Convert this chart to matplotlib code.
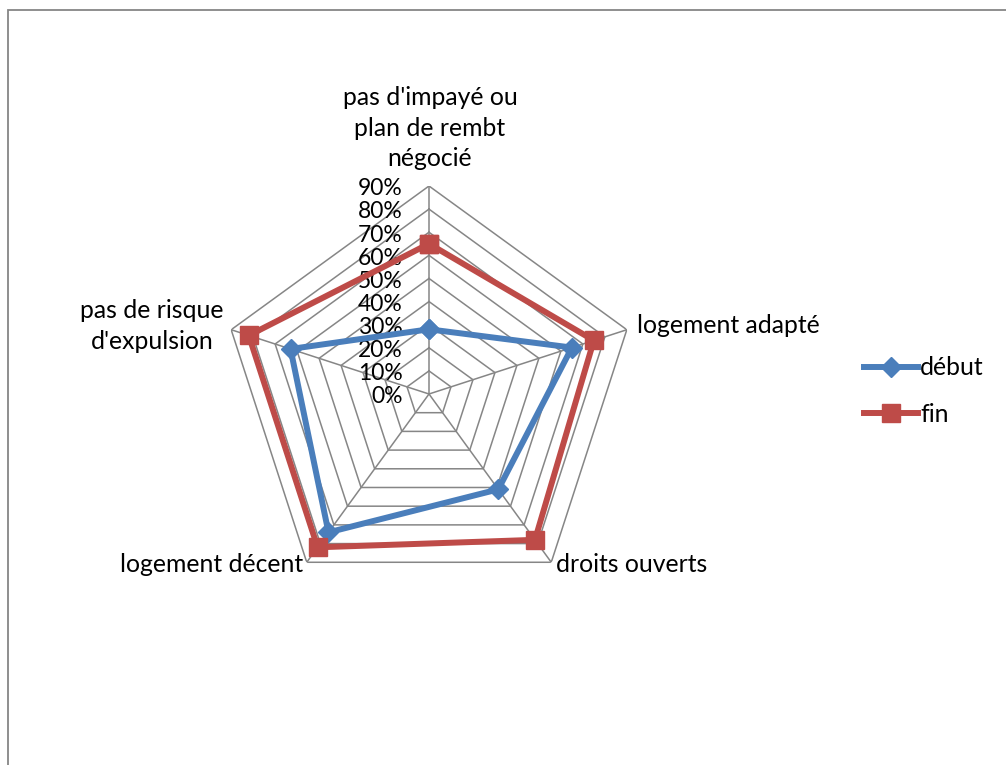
import numpy as np
import matplotlib
matplotlib.use("Agg")
import matplotlib.pyplot as plt
from matplotlib.patches import Rectangle
from matplotlib.lines import Line2D

plt.rcParams['font.family'] = ['Lato', 'DejaVu Sans']

categories = ["pas d'impayé ou\nplan de rembt\nnégocié", "logement adapté",
              "droits ouverts", "logement décent", "pas de risque\nd'expulsion"]
debut = [28, 65, 51, 74, 63]
fin = [65, 75, 78, 82, 82]
levels = [0, 10, 20, 30, 40, 50, 60, 70, 80, 90]
level_labels = [f"{v}%" for v in levels]

blue = "#4A7EBB"
red = "#BE4B48"
grid_col = "#868686"
fs = 17.8
fs_tick = 16.5

W, H = 1006, 765
fig = plt.figure(figsize=(W / 100, H / 100), dpi=100)

# chart-area frame
fig.add_artist(Rectangle((7.5 / W, -0.1), 1.2, 1 - 10.5 / H + 0.1, transform=fig.transFigure,
                         fill=False, edgecolor=grid_col, linewidth=1.3))

cx, cy, R = 429, 394, 208
ax = fig.add_axes([(cx - R) / W, (H - cy - R) / H, 2 * R / W, 2 * R / H], projection='polar')
ax.set_theta_offset(np.pi / 2)
ax.set_theta_direction(-1)
ax.set_ylim(0, 90)
ax.grid(False)
ax.spines['polar'].set_visible(False)
ax.set_xticks([])
ax.set_yticks([])
ax.patch.set_alpha(0)

n = len(categories)
theta = np.arange(n) * 2 * np.pi / n
theta_c = np.append(theta, theta[0])

# polygon grid and spokes
for lv in levels[1:]:
    ax.plot(theta_c, [lv] * (n + 1), color=grid_col, lw=1.1, zorder=1)
for t in theta:
    ax.plot([t, t], [0, levels[-1]], color=grid_col, lw=1.1, zorder=1)

# radial value labels along the first spoke
for lv, lab in zip(levels, level_labels):
    ax.annotate(lab, xy=(0, lv), xytext=(-19, -2), textcoords='offset points',
                ha='right', va='center', fontsize=fs_tick, color='black',
                annotation_clip=False)

# series
ax.plot(theta_c, debut + debut[:1], color=blue, lw=4.3, marker='D', markersize=10.5,
        markerfacecolor=blue, markeredgecolor=blue, zorder=3, clip_on=False)
ax.plot(theta_c, fin + fin[:1], color=red, lw=4.3, marker='s', markersize=13,
        markerfacecolor=red, markeredgecolor=red, zorder=4, clip_on=False)

# category labels
label_pos = [((430, 128), 'center', 'center', 1.38),
             ((637, 325), 'left', 'center', 1.3),
             ((556, 565), 'left', 'center', 1.3),
             ((303, 565), 'right', 'center', 1.3),
             ((152, 326), 'center', 'center', 1.38)]
for name, ((px, py), ha, va, ls) in zip(categories, label_pos):
    fig.text(px / W, 1 - py / H, name, ha=ha, va=va, fontsize=fs, linespacing=ls,
             multialignment='center')

handles = [Line2D([], [], color=blue, lw=4.3, marker='D', markersize=10.5),
           Line2D([], [], color=red, lw=4.3, marker='s', markersize=13)]
fig.legend(handles, ["début", "fin"], loc='center left',
           bbox_to_anchor=(852 / W, 1 - 391 / H), frameon=False, fontsize=fs,
           handlelength=2.15, handletextpad=0.1, labelspacing=0.95, borderpad=0)

fig.savefig("out.png", dpi=100)
